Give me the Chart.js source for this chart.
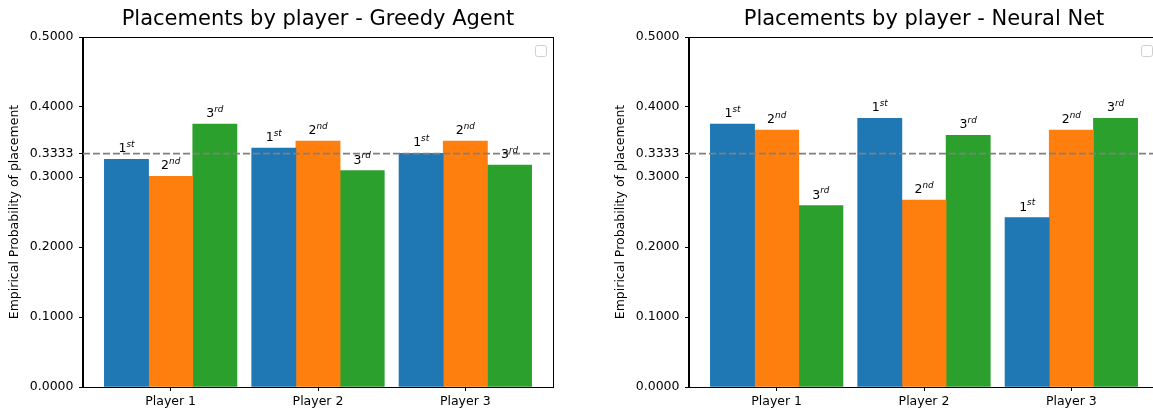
<!DOCTYPE html>
<html>
<head>
<meta charset="utf-8">
<script src="https://cdn.jsdelivr.net/npm/chart.js@4"></script>
<style>
  html, body { margin: 0; padding: 0; background: #fff; overflow: hidden; }
  body { width: 1153px; height: 412px; position: relative; }
  canvas { position: absolute; top: 0; }
  #greedy { left: 0; }
  #neural { left: 600px; }
</style>
</head>
<body>
<canvas id="greedy" width="600" height="412"></canvas>
<canvas id="neural" width="570" height="412"></canvas>
<script>
// Categories and labels
const PLAYERS = ['Player 1', 'Player 2', 'Player 3'];
const PLACE_NUM = ['1', '2', '3'];
const PLACE_SUFFIX = ['st', 'nd', 'rd'];
const Y_TICKS = [0, 0.1, 0.2, 0.3, 1 / 3, 0.4, 0.5];
const UNIFORM = 1 / 3;

// Empirical placement probabilities: one array per placement, indexed by player
const GREEDY_FIRST  = [0.3253, 0.3414, 0.3338];
const GREEDY_SECOND = [0.3010, 0.3514, 0.3514];
const GREEDY_THIRD  = [0.3757, 0.3090, 0.3171];

const NEURAL_FIRST  = [0.3757, 0.3838, 0.2419];
const NEURAL_SECOND = [0.3671, 0.2671, 0.3671];
const NEURAL_THIRD  = [0.2590, 0.3595, 0.3838];

const COLORS = ['#1f77b4', '#ff7f0e', '#2ca02c'];
const BAR_OFFSETS = [-0.3, 0, 0.3];
const FONT = "'DejaVu Sans', sans-serif";

// Draws the reference line, axes frame, superscript labels and the empty legend frame
const decorations = {
  id: 'decorations',
  afterDatasetsDraw(chart) {
    const { ctx, chartArea: a, scales: { y } } = chart;
    ctx.save();
    // dashed uniform-probability line
    const yl = y.getPixelForValue(UNIFORM);
    ctx.strokeStyle = '#808080';
    ctx.lineWidth = 1.8;
    ctx.setLineDash([7, 3]);
    ctx.beginPath();
    ctx.moveTo(a.left, yl);
    ctx.lineTo(a.right, yl);
    ctx.stroke();
    ctx.setLineDash([]);

    // axes frame
    ctx.strokeStyle = '#000';
    ctx.lineWidth = 1;
    ctx.strokeRect(Math.round(a.left) - 0.5, Math.round(a.top) + 0.5,
      Math.round(a.right - a.left) + 1, Math.round(a.bottom - a.top));

    // placement labels such as 1st, 2nd, 3rd above the bars
    const mainFont = '12.5px ' + FONT;
    const supFont = 'italic 8.8px ' + FONT;
    ctx.fillStyle = '#000';
    ctx.textBaseline = 'alphabetic';
    ctx.textAlign = 'left';
    chart.data.datasets.forEach((ds, k) => {
      const meta = chart.getDatasetMeta(k);
      meta.data.forEach((bar) => {
        ctx.font = mainFont;
        const w1 = ctx.measureText(PLACE_NUM[k]).width;
        ctx.font = supFont;
        const w2 = ctx.measureText(PLACE_SUFFIX[k]).width;
        const x0 = bar.x - (w1 + w2) / 2;
        const base = bar.y - 7;
        ctx.font = mainFont;
        ctx.fillText(PLACE_NUM[k], x0, base);
        ctx.font = supFont;
        ctx.fillText(PLACE_SUFFIX[k], x0 + w1, base - 5.5);
      });
    });

    // empty legend frame in the upper right corner
    const lw = 11, lh = 11;
    const lx = a.right - 7 - lw, ly = a.top + 8;
    ctx.fillStyle = 'rgba(255,255,255,0.8)';
    ctx.strokeStyle = '#d0d0d0';
    ctx.lineWidth = 1;
    ctx.beginPath();
    ctx.roundRect(lx + 0.5, ly + 0.5, lw, lh, 2);
    ctx.fill();
    ctx.stroke();
    ctx.restore();
  }
};

function makeChart(id, title, series, yAxisWidth, yTitlePad, rightPad) {
  const datasets = series.map((vals, k) => ({
    label: PLACE_NUM[k] + PLACE_SUFFIX[k],
    data: vals.map((v, i) => ({ x: i + BAR_OFFSETS[k], y: v })),
    backgroundColor: COLORS[k],
    borderWidth: 0,
    grouped: false,
    barPercentage: 1,
    categoryPercentage: 1
  }));

  return new Chart(document.getElementById(id), {
    type: 'bar',
    data: { datasets },
    options: {
      responsive: false,
      animation: false,
      devicePixelRatio: 1,
      layout: { padding: { left: 0, right: rightPad, top: 0, bottom: 0 } },
      plugins: {
        legend: { display: false },
        tooltip: { enabled: false },
        title: {
          display: true,
          text: title,
          fullSize: false,
          color: '#000',
          font: { family: FONT, size: 21, weight: 'normal' },
          padding: { top: 7, bottom: 4.8 }
        }
      },
      scales: {
        x: {
          type: 'linear',
          offset: false,
          min: -0.595,
          max: 2.595,
          afterBuildTicks(scale) {
            scale.ticks = PLAYERS.map((_, i) => ({ value: i }));
          },
          afterFit(scale) { scale.height = 25; },
          ticks: {
            color: '#000',
            font: { family: FONT, size: 12.5 },
            padding: 3,
            maxRotation: 0,
            autoSkip: false,
            callback: (v) => PLAYERS[v]
          },
          grid: { offset: false, drawOnChartArea: false, drawTicks: true, tickLength: 4, tickColor: '#000', color: '#000' },
          border: { display: true, color: '#000', width: 1 }
        },
        y: {
          type: 'linear',
          min: 0,
          max: 0.5,
          afterBuildTicks(scale) {
            scale.ticks = Y_TICKS.map((v) => ({ value: v }));
          },
          afterFit(scale) { scale.width = yAxisWidth; },
          ticks: {
            color: '#000',
            font: { family: FONT, size: 12.5 },
            padding: 5.5,
            autoSkip: false,
            callback: (v) => Number(v).toFixed(4)
          },
          grid: { drawOnChartArea: false, drawTicks: true, tickLength: 4, tickColor: '#000', color: '#000' },
          border: { display: true, color: '#000', width: 1 },
          title: {
            display: true,
            text: 'Empirical Probability of placement',
            color: '#000',
            font: { family: FONT, size: 12.5 },
            padding: { top: yTitlePad, bottom: 0 }
          }
        }
      }
    },
    plugins: [decorations]
  });
}

makeChart('greedy', 'Placements by player - Greedy Agent',
  [GREEDY_FIRST, GREEDY_SECOND, GREEDY_THIRD], 83, 7.5, 47);
makeChart('neural', 'Placements by player - Neural Net',
  [NEURAL_FIRST, NEURAL_SECOND, NEURAL_THIRD], 89, 13.5, 11);
</script>
</body>
</html>
